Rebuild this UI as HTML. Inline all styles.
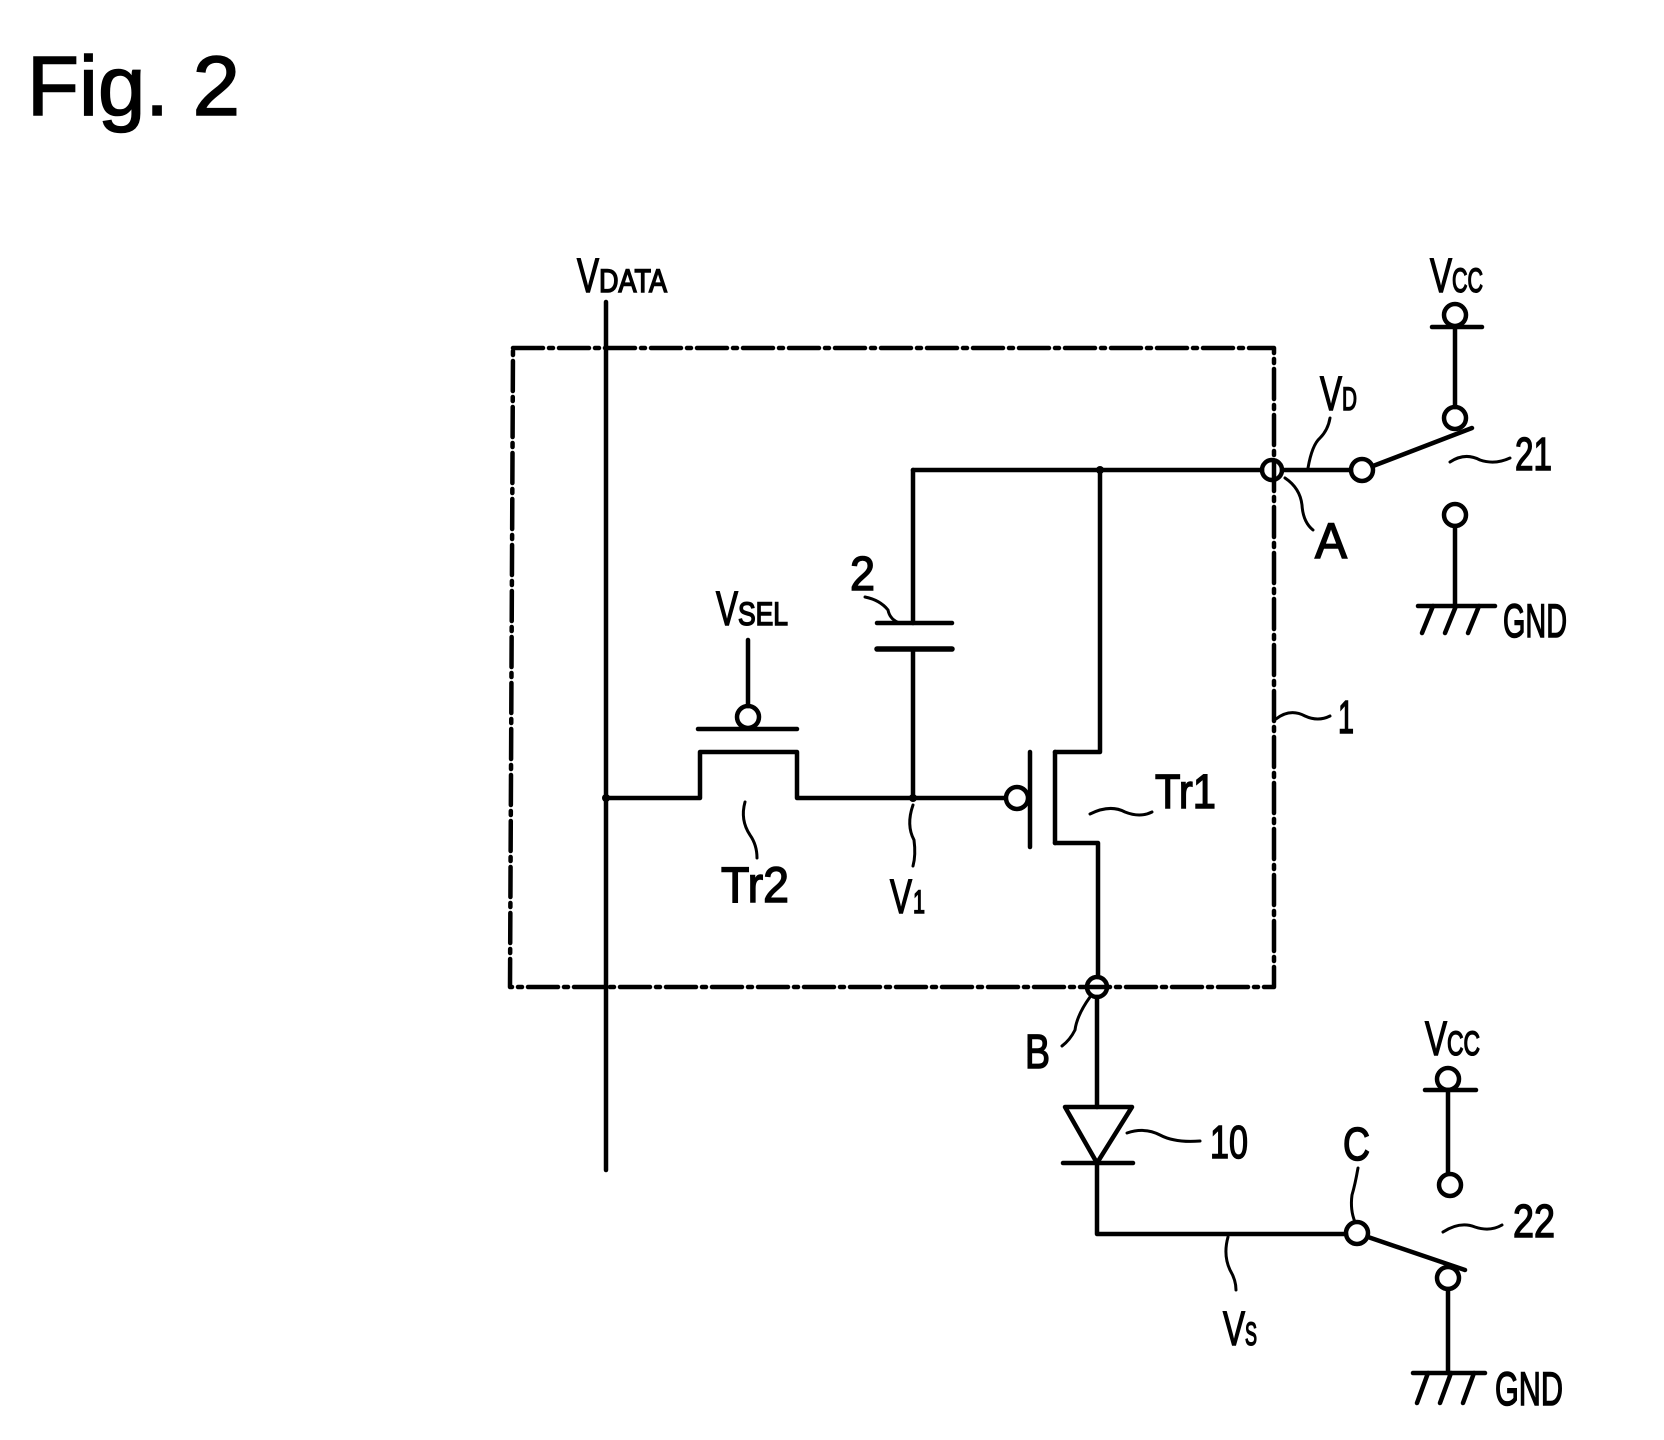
<!DOCTYPE html>
<html><head><meta charset="utf-8"><style>
html,body{margin:0;padding:0;background:#fff;}
svg{display:block;}
text{font-family:"Liberation Sans",sans-serif;fill:#000;stroke:#000;stroke-width:1.5;}
</style></head><body>
<svg width="1664" height="1440" viewBox="0 0 1664 1440" xmlns="http://www.w3.org/2000/svg">
<g stroke="#000" stroke-width="4.5" fill="none" stroke-linecap="round" stroke-linejoin="round">
<path d="M513 348 H1274 V987 H510 Z" stroke-width="4.5" stroke-dasharray="30 6 4 6"/>
<path d="M606 302 V1170"/>
<path d="M606 798 H700 V752 H797 V798 H1005"/>
<path d="M698 729 H797"/>
<circle cx="748" cy="717" r="11"/>
<path d="M748 706 V640"/>
<path d="M913 470 V623"/>
<path d="M877 623 H952"/>
<path d="M877 649 H952" stroke-width="5.5"/>
<path d="M913 649 V798"/>
<circle cx="1017" cy="798" r="11"/>
<path d="M1030 752 V847"/>
<path d="M1055 752 V843"/>
<path d="M1055 752 H1100 V470"/>
<path d="M1055 843 H1098 V977"/>
<path d="M913 470 H1262"/>
<circle cx="1272" cy="470" r="10"/>
<path d="M1282 470 H1351"/>
<circle cx="1362" cy="470" r="11"/>
<path d="M1373 466 L1472 428"/>
<circle cx="1455" cy="418" r="11"/>
<path d="M1455 407 V329"/>
<circle cx="1455" cy="315" r="11"/>
<path d="M1432 327 H1482"/>
<circle cx="1455" cy="515" r="11"/>
<path d="M1455 526 V606"/>
<path d="M1418 606 H1495"/>
<path d="M1433 606 L1422 633 M1456 606 L1445 633 M1479 606 L1468 633"/>
<circle cx="1097" cy="987" r="10"/>
<path d="M1097 997 V1107"/>
<path d="M1065 1107 H1132 L1097 1163 Z"/>
<path d="M1063 1163 H1133"/>
<path d="M1097 1163 V1234 H1346"/>
<circle cx="1357" cy="1233" r="11"/>
<path d="M1368 1237 L1465 1270"/>
<circle cx="1448" cy="1278" r="11"/>
<path d="M1448 1289 V1373"/>
<path d="M1413 1373 H1485"/>
<path d="M1428 1373 L1417 1403 M1451 1373 L1440 1403 M1474 1373 L1463 1403"/>
<circle cx="1448" cy="1079" r="11"/>
<path d="M1425 1090 H1476"/>
<path d="M1448 1090 V1173"/>
<circle cx="1450" cy="1185" r="11"/>
</g>
<g fill="#000">
<circle cx="606" cy="798" r="4"/><circle cx="913" cy="798" r="4"/><circle cx="1100" cy="470" r="4"/>
</g>
<g stroke="#000" stroke-width="3" fill="none" stroke-linecap="round">
<path d="M745 802 Q740 820 750 835 Q757 845 757 858"/>
<path d="M913 805 Q906 825 914 840 Q916 855 913 866"/>
<path d="M865 597 Q880 600 888 610 Q890 620 900 623"/>
<path d="M1090 814 Q1110 804 1125 812 Q1140 818 1152 812"/>
<path d="M1276 719 Q1290 708 1305 716 Q1318 722 1330 716"/>
<path d="M1308 468 Q1312 445 1320 438 Q1328 430 1330 418"/>
<path d="M1285 478 Q1300 488 1302 505 Q1303 522 1313 530"/>
<path d="M1450 462 Q1465 452 1480 460 Q1495 465 1510 458"/>
<path d="M1090 997 Q1077 1015 1075 1030 Q1070 1040 1062 1046"/>
<path d="M1127 1133 Q1145 1127 1160 1135 Q1175 1143 1200 1141"/>
<path d="M1358 1168 Q1355 1185 1352 1195 Q1350 1210 1355 1222"/>
<path d="M1443 1232 Q1460 1221 1475 1227 Q1490 1232 1502 1225"/>
<path d="M1228 1237 Q1223 1255 1230 1270 Q1236 1280 1236 1290"/>
</g>
<text x="27" y="115" font-size="84" textLength="213" lengthAdjust="spacingAndGlyphs">Fig. 2</text>
<text x="577" y="292" font-size="48" textLength="22" lengthAdjust="spacingAndGlyphs">V</text>
<text x="599" y="292" font-size="32" textLength="68" lengthAdjust="spacingAndGlyphs">DATA</text>
<text x="716" y="625" font-size="48" textLength="22" lengthAdjust="spacingAndGlyphs">V</text>
<text x="738" y="625" font-size="32" textLength="50" lengthAdjust="spacingAndGlyphs">SEL</text>
<text x="1320" y="410" font-size="48" textLength="22" lengthAdjust="spacingAndGlyphs">V</text>
<text x="1342" y="410" font-size="32" textLength="15" lengthAdjust="spacingAndGlyphs">D</text>
<text x="1430" y="292" font-size="48" textLength="22" lengthAdjust="spacingAndGlyphs">V</text>
<text x="1452" y="292" font-size="34" textLength="31" lengthAdjust="spacingAndGlyphs">CC</text>
<text x="1425" y="1055" font-size="48" textLength="22" lengthAdjust="spacingAndGlyphs">V</text>
<text x="1447" y="1055" font-size="34" textLength="33" lengthAdjust="spacingAndGlyphs">CC</text>
<text x="1223" y="1345" font-size="48" textLength="22" lengthAdjust="spacingAndGlyphs">V</text>
<text x="1245" y="1345" font-size="32" textLength="12" lengthAdjust="spacingAndGlyphs">S</text>
<text x="890" y="913" font-size="48" textLength="22" lengthAdjust="spacingAndGlyphs">V</text>
<text x="913" y="913" font-size="32" textLength="12" lengthAdjust="spacingAndGlyphs">1</text>
<text x="1515" y="470" font-size="46" textLength="37" lengthAdjust="spacingAndGlyphs">21</text>
<text x="1315" y="558" font-size="50" textLength="32" lengthAdjust="spacingAndGlyphs">A</text>
<text x="1338" y="733" font-size="46" textLength="16" lengthAdjust="spacingAndGlyphs">1</text>
<text x="1155" y="808" font-size="48" textLength="61" lengthAdjust="spacingAndGlyphs">Tr1</text>
<text x="721" y="902" font-size="50" textLength="68" lengthAdjust="spacingAndGlyphs">Tr2</text>
<text x="850" y="590" font-size="48" textLength="25" lengthAdjust="spacingAndGlyphs">2</text>
<text x="1025" y="1068" font-size="48" textLength="25" lengthAdjust="spacingAndGlyphs">B</text>
<text x="1210" y="1158" font-size="46" textLength="38" lengthAdjust="spacingAndGlyphs">10</text>
<text x="1343" y="1160" font-size="46" textLength="27" lengthAdjust="spacingAndGlyphs">C</text>
<text x="1513" y="1237" font-size="46" textLength="42" lengthAdjust="spacingAndGlyphs">22</text>
<text x="1503" y="637" font-size="47" textLength="64" lengthAdjust="spacingAndGlyphs">GND</text>
<text x="1495" y="1405" font-size="47" textLength="68" lengthAdjust="spacingAndGlyphs">GND</text>
</svg>
</body></html>
